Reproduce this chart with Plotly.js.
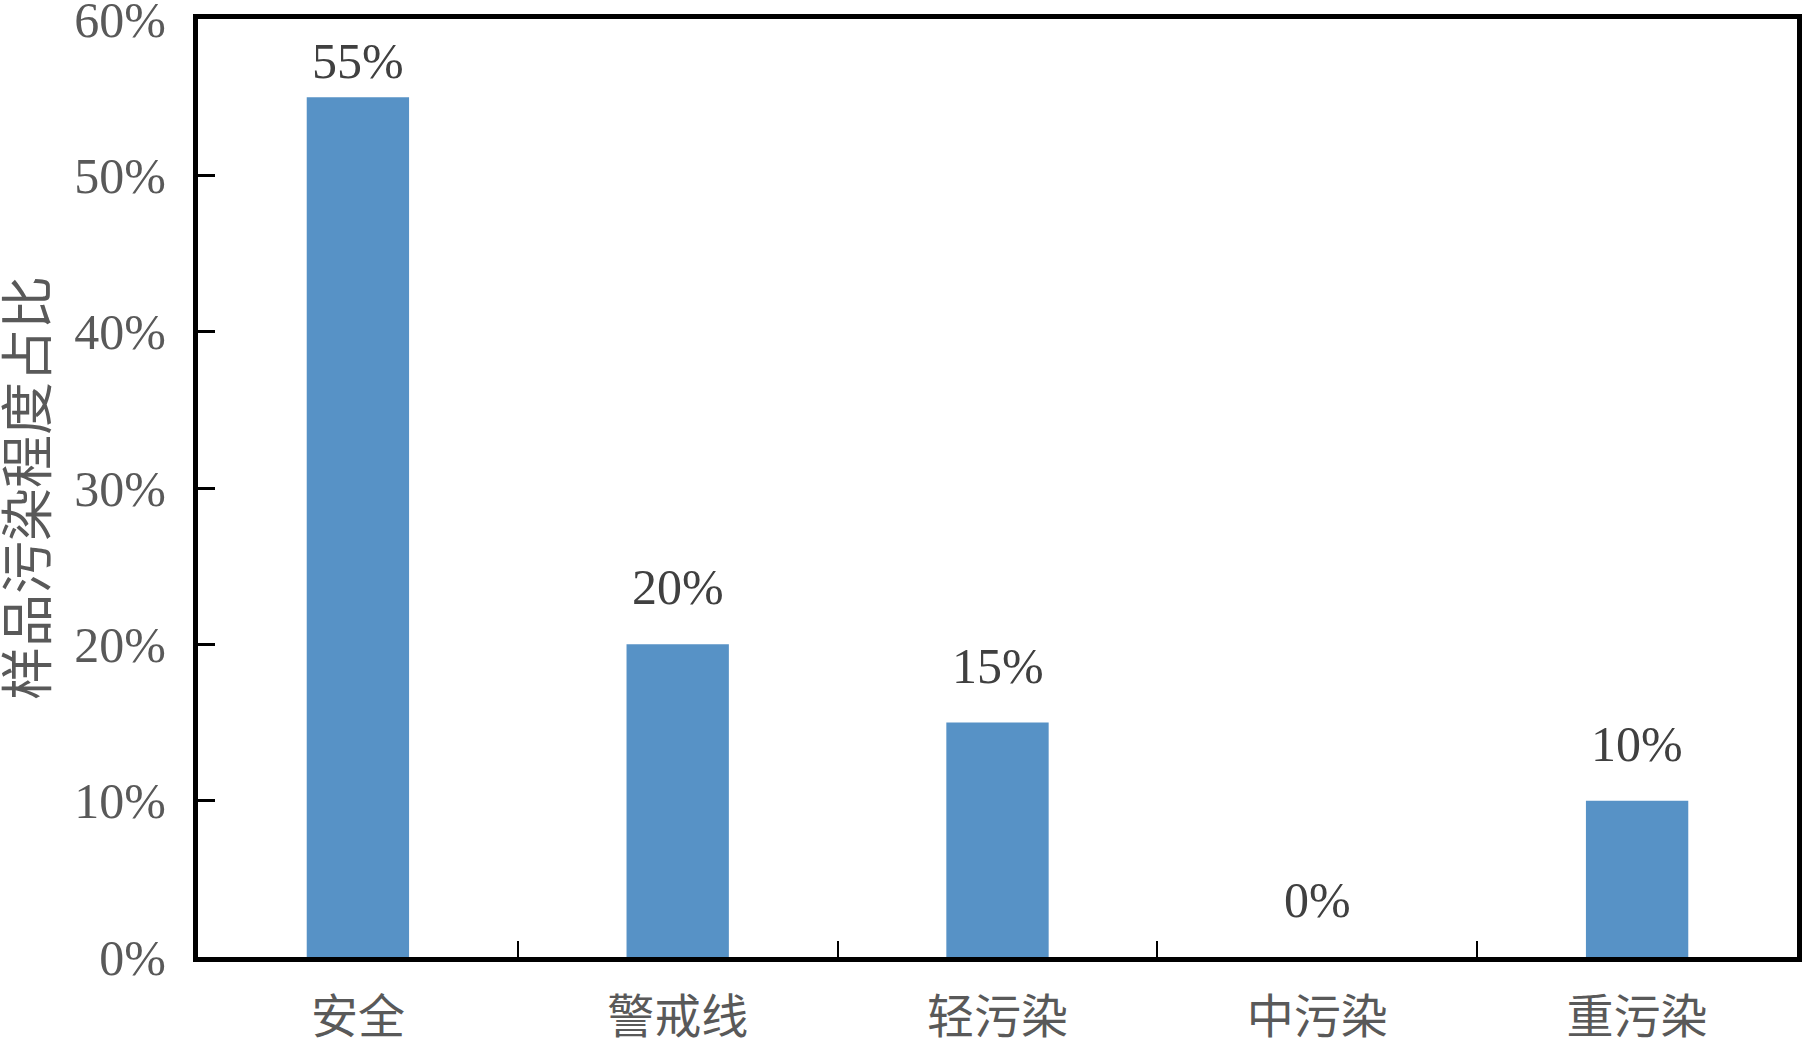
<!DOCTYPE html>
<html>
<head>
<meta charset="utf-8">
<script src="https://cdn.plot.ly/plotly-3.0.1.min.js"></script>
<style>html,body{margin:0;padding:0;background:#fff;}#chart{width:1803px;height:1042px;}</style>
</head>
<body>
<div id="chart"></div>
<script>
// ---- data ----
const categories = ['安全', '警戒线', '轻污染', '中污染', '重污染'];
const shares = [55, 20, 15, 0, 10];
const shareLabels = ['55%', '20%', '15%', '0%', '10%'];
const yTickVals = [0, 10, 20, 30, 40, 50, 60];
const yTickText = ['0%', '10%', '20%', '30%', '40%', '50%', '60%'];
const yTitle = '样品污染程度占比';

// ---- layout constants ----
const W = 1803, H = 1042;
const M = {l: 198, r: 6, t: 19, b: 85};
const yMax = 60;
const plotH = H - M.t - M.b;
const pxPerUnit = plotH / yMax;
const labelGap = 57;      // label centre above bar top
const labelTopMin = 42;   // keep label centre this far below plot top

const FONT = '"Liberation Serif", "Noto Sans CJK SC", serif';

const annotations = categories.map((c, i) => {
  const roomAbove = (yMax - shares[i]) * pxPerUnit - labelTopMin;
  const shift = Math.min(labelGap, roomAbove);
  return {
    x: c, y: shares[i], xref: 'x', yref: 'y',
    text: shareLabels[i], showarrow: false,
    yanchor: 'middle', xanchor: 'center', yshift: shift,
    font: {family: FONT, size: 50, color: '#404040'}
  };
});

const trace = {
  type: 'bar',
  x: categories,
  y: shares,
  marker: {color: '#5792C6', line: {width: 0}},
  hoverinfo: 'skip'
};

const layout = {
  width: W, height: H,
  margin: M,
  paper_bgcolor: '#ffffff',
  plot_bgcolor: '#ffffff',
  showlegend: false,
  bargap: 0.68,
  font: {family: FONT, color: '#595959'},
  xaxis: {
    type: 'category',
    showline: true, linewidth: 5, linecolor: '#000000', mirror: true,
    ticks: 'inside', tickson: 'boundaries', ticklen: 16, tickwidth: 2, tickcolor: '#000000',
    showgrid: false, zeroline: false,
    tickfont: {family: FONT, size: 47, color: '#595959'},
    ticklabelstandoff: 15,
    ticklabeloverflow: 'allow',
    automargin: false, fixedrange: true
  },
  yaxis: {
    range: [0, yMax],
    tickvals: yTickVals, ticktext: yTickText,
    showline: true, linewidth: 5, linecolor: '#000000', mirror: true,
    ticks: 'inside', ticklen: 17, tickwidth: 3, tickcolor: '#000000',
    showgrid: false, zeroline: false,
    tickfont: {family: FONT, size: 50, color: '#595959'},
    ticklabelstandoff: 17,
    ticklabeloverflow: 'allow',
    title: {text: yTitle, font: {family: FONT, size: 53, color: '#595959'}, standoff: 24},
    automargin: false, fixedrange: true
  },
  annotations: annotations
};

Plotly.newPlot('chart', [trace], layout, {staticPlot: true, displayModeBar: false});
</script>
</body>
</html>
